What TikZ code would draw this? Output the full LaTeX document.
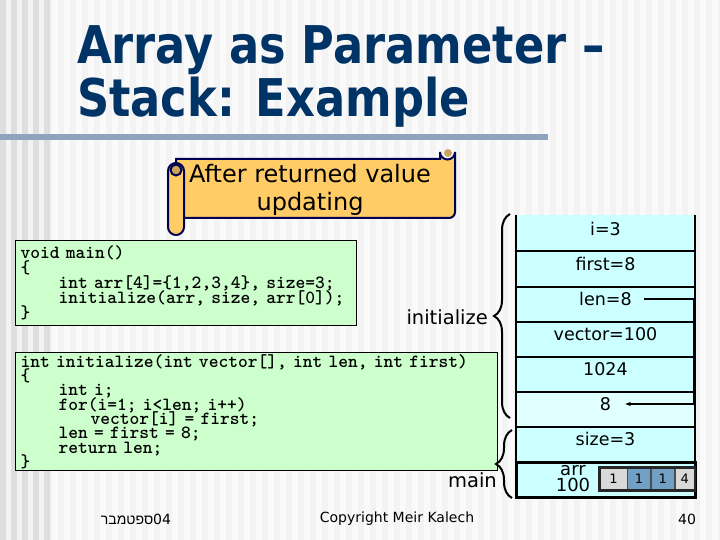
\documentclass[tikz,border=0pt]{standalone}
\usepackage{fontspec}
\setmainfont{DejaVu Sans}
\newfontfamily\ttlfont{DejaVu Sans}[FakeStretch=0.86]
\newfontfamily\codefont{lmmonolt10-bold.otf}
\newfontfamily\hebfont[Script=Hebrew]{Liberation Sans}
\TeXXeTstate=1
\DeclareRobustCommand{\codefnt}[1]{\codefont\fontsize{18.6}{#1}\selectfont
  \lineskiplimit -20pt\lineskip 0pt\relax}
\usetikzlibrary{arrows.meta,positioning,calc,decorations.pathreplacing}
\definecolor{titleblue}{RGB}{0,51,102}
\definecolor{rulec}{RGB}{143,163,191}
\definecolor{bgbase}{RGB}{243,243,243}
\definecolor{bgstripe}{RGB}{250,250,250}
\definecolor{bgdark}{RGB}{222,222,222}
\definecolor{scrollf}{RGB}{255,204,102}
\definecolor{scrolle}{RGB}{0,0,80}
\definecolor{curlf}{RGB}{204,163,92}
\definecolor{codef}{RGB}{204,255,204}
\definecolor{stkf}{RGB}{204,255,255}
\definecolor{stkl}{RGB}{224,255,255}
\definecolor{cellgray}{RGB}{217,217,217}
\definecolor{cellblue}{RGB}{114,159,196}
\tikzset{
  ttl/.style={font=\ttlfont\bfseries\fontsize{52}{53}\selectfont, text=titleblue, inner sep=0pt},
  scrl/.style={fill=scrollf, draw=scrolle, line width=2pt},
  codebox/.style={draw=black, line width=1.2pt, fill=codef, inner xsep=5pt, inner ysep=1pt,
    anchor=north west},
  stkline/.style={black, line width=2pt},
  slab/.style={font=\fontsize{17.5}{20}\selectfont, inner sep=2pt},
  brc/.style={black, line width=2pt, decorate,
    decoration={brace, amplitude=16pt, aspect=0.5}},
  blab/.style={font=\fontsize{19.5}{22}\selectfont, inner sep=0pt, anchor=east},
  cellg/.style={fill=cellgray, draw=black!70, line width=0.6pt, minimum height=22pt,
    inner sep=0pt, font=\fontsize{13}{14}\selectfont},
  cellb/.style={cellg, fill=cellblue},
  ptr/.style={-{Stealth[length=2mm]}, black, line width=1.3pt},
  ftr/.style={font=\fontsize{14}{16}\selectfont, inner sep=0pt},
}

\begin{document}
\begin{tikzpicture}[x=1pt, y=-1pt]
  \useasboundingbox (0,0) rectangle (720,540);
  % striped slide background
  \fill[bgbase] (0,0) rectangle (720,540);
  \foreach \x in {52,64,...,716} \fill[bgstripe] (\x,0) rectangle ++(6,540);
  \foreach \x in {0,11,...,44} \fill[bgdark] (\x,0) rectangle ++(6,540);
  \node[ttl, anchor=base west] (title1) at (77,64) {Array as Parameter –};
  \node[ttl, anchor=base west] (title2) at (77,117) {Stack: Example};
  \fill[rulec] (0,134) rectangle (548,140);
  % scroll
  \draw[scrl] (176,159) -- (440,159) -- (440,152) arc[start angle=180, end angle=0, radius=7.5]
    -- (455,212) arc[start angle=0, end angle=90, radius=6] -- (176,218) -- cycle;
  \fill[curlf] (448,153) circle (4);
  \draw[scrl, rounded corners=8pt] (168,163) rectangle (184,235);
  \draw[scrolle, line width=2pt, fill=curlf] (176,170) circle (5.5);
  \node[font=\fontsize{24}{28}\selectfont, align=center, inner sep=0pt] (note) at (310,190)
    {After returned value\\updating};
  % code of main
  \node[codebox, text width=331pt, minimum height=85pt, font=\codefnt{15}] (mainc) at (15,240)
    {void main()\\
     \{\\
     \hspace*{38pt}int arr[4]=\{1,2,3,4\}, size=3;\\
     \hspace*{38pt}initialize(arr, size, arr[0]);\\
     \}};
  % code of initialize
  \node[codebox, text width=472pt, minimum height=118pt, font=\codefnt{14.3}] (initc) at (15,352)
    {int initialize(int vector[], int len, int first)\\
     \{\\
     \hspace*{38pt}int i;\\
     \hspace*{38pt}for(i=1; i<len; i++)\\
     \hspace*{70pt}vector[i] = first;\\
     \hspace*{38pt}len = first = 8;\\
     \hspace*{38pt}return len;\\
     \}};
  % stack
  \fill[stkf] (516,215) rectangle (695,497);
  \fill[stkl] (516,392) rectangle (695,427);
  \draw[stkline] (516,215) -- (516,497) -- (695,497) -- (695,215);
  \foreach \y in {251,287,322,357,392,427}
    \draw[stkline] (516,\y) -- (695,\y);
  \draw[stkline, line width=3pt] (516,462) rectangle (695,497);
  \node[slab] (iv) at (605.5,229) {i=3};
  \node[slab] (firstv) at (605.5,264) {first=8};
  \node[slab] (lenv) at (605.5,299) {len=8};
  \node[slab] (vecv) at (605.5,334) {vector=100};
  \node[slab] (retv) at (605.5,369) {1024};
  \node[slab] (eightv) at (605.5,404) {8};
  \node[slab] (sizev) at (605.5,439) {size=3};
  \node[font=\fontsize{18}{16}\selectfont, align=center, inner sep=0pt] (arrv) at (573,478.5) {arr\\100};
  % array cells
  \node[cellg, minimum width=27pt] (a0) at (613.5,479) {1};
  \node[cellb, minimum width=23pt, right=0pt of a0] (a1) {1};
  \node[cellb, minimum width=23pt, right=0pt of a1] (a2) {1};
  \node[cellg, minimum width=20pt, right=0pt of a2] (a3) {4};
  \draw[black!85, line width=2.5pt] (a0.north west) rectangle (a3.south east);
  % returned value
  \coordinate (bend) at (684,0);
  \draw[ptr] ([xshift=10pt]lenv.east) -- ([xshift=10pt]lenv.east -| bend)
    |- ([xshift=12pt]eightv.east);
  % frames
  \draw[brc] (510,418) -- (510,214);
  \draw[brc] (512,498) -- (512,430);
  \node[blab] (initl) at (488,317) {initialize};
  \node[blab] (mainl) at (497,480) {main};
  % footer
  \node[ftr] (date) at (136,519) {{\hebfont\beginR ספטמבר\endR}04};
  \node[ftr] (copy) at (397,519) {Copyright Meir Kalech};
  \node[ftr] (pnum) at (687,519) {40};
\end{tikzpicture}
\end{document}
